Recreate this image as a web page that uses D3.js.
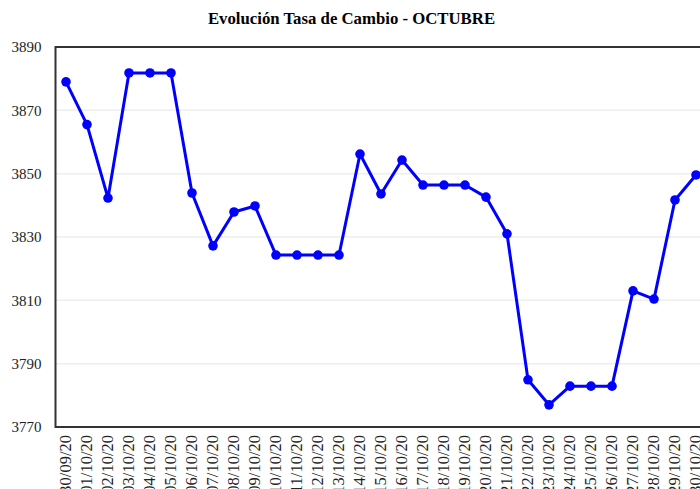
<!DOCTYPE html>
<html lang="en">
<head>
<meta charset="utf-8">
<script src="https://d3js.org/d3.v7.min.js"></script>
<style>
  body { margin: 0; background: #fff; }
  svg { display: block; }
  svg text { font-family: "Liberation Serif", "Times New Roman", Times, "DejaVu Serif", serif; }
</style>
</head>
<body>
<script>
// fechas del mes
var fechas = ["30/09/20","01/10/20","02/10/20","03/10/20","04/10/20","05/10/20","06/10/20",
  "07/10/20","08/10/20","09/10/20","10/10/20","11/10/20","12/10/20","13/10/20","14/10/20",
  "15/10/20","16/10/20","17/10/20","18/10/20","19/10/20","20/10/20","21/10/20","22/10/20",
  "23/10/20","24/10/20","25/10/20","26/10/20","27/10/20","28/10/20","29/10/20","30/10/20"];

// tasa de cambio
var tasas = [3879, 3865.5, 3842.3, 3881.8, 3881.8, 3881.8, 3843.9, 3827.2, 3837.9, 3839.8,
  3824.3, 3824.3, 3824.3, 3824.3, 3856.2, 3843.6, 3854.3, 3846.4, 3846.4, 3846.4, 3842.6,
  3831, 3784.9, 3777, 3782.9, 3782.9, 3782.9, 3813, 3810.4, 3841.7, 3849.6];

var yTicks = [3770, 3790, 3810, 3830, 3850, 3870, 3890];

var w = 700, h = 489;
var margin = {top: 47, left: 55.5, bottom: 62};
var plotW = 651;
var plotH = h - margin.top - margin.bottom;

var svg = d3.select("body").append("svg")
  .attr("width", w)
  .attr("height", h);

svg.append("text")
  .attr("x", 351.5)
  .attr("y", 24)
  .attr("text-anchor", "middle")
  .style("font-size", "16.75px")
  .style("font-weight", "bold")
  .text("Evolución Tasa de Cambio - OCTUBRE");

var x = d3.scaleBand()
  .domain(fechas)
  .range([margin.left, margin.left + plotW]);

var y = d3.scaleLinear()
  .domain([3770, 3890])
  .range([margin.top + plotH, margin.top]);

// gridlines
svg.append("g")
  .selectAll("line")
  .data(yTicks.slice(1, -1))
  .enter()
  .append("line")
  .attr("x1", margin.left)
  .attr("x2", margin.left + plotW)
  .attr("y1", function(d) { return y(d); })
  .attr("y2", function(d) { return y(d); })
  .attr("stroke", "#eeeeee")
  .attr("stroke-width", 1.5);

// y axis labels
var yAxis = d3.axisLeft(y).tickValues(yTicks).tickSize(0).tickPadding(14).tickFormat(d3.format("d"));
var gy = svg.append("g")
  .attr("transform", "translate(" + margin.left + ",0)")
  .call(yAxis);
gy.select(".domain").remove();
gy.selectAll("text")
  .style("font-size", "15px")
  .attr("fill", "#222");

// x axis labels
var xAxis = d3.axisBottom(x).tickSize(0).tickPadding(0);
var gx = svg.append("g")
  .attr("transform", "translate(0," + (margin.top + plotH) + ")")
  .call(xAxis);
gx.select(".domain").remove();
gx.selectAll("text")
  .style("font-size", "16.5px")
  .attr("fill", "#222")
  .attr("text-anchor", "end")
  .attr("dy", "0.33em")
  .attr("transform", "translate(0,8) rotate(-90)");

// frame
svg.append("path")
  .attr("d", "M" + (margin.left + plotW) + "," + margin.top +
    "H" + margin.left + "V" + (margin.top + plotH) + "H" + (margin.left + plotW))
  .attr("fill", "none")
  .attr("stroke", "#333")
  .attr("stroke-width", 2);

var line = d3.line()
  .x(function(d, i) { return x(fechas[i]) + x.bandwidth() / 2; })
  .y(function(d) { return y(d); });

svg.append("path")
  .datum(tasas)
  .attr("d", line)
  .attr("fill", "none")
  .attr("stroke", "#0000ff")
  .attr("stroke-width", 3)
  .attr("stroke-linejoin", "round");

svg.selectAll("circle")
  .data(tasas)
  .enter()
  .append("circle")
  .attr("cx", function(d, i) { return x(fechas[i]) + x.bandwidth() / 2; })
  .attr("cy", function(d) { return y(d); })
  .attr("r", 4.8)
  .attr("fill", "#0000ff");
</script>
</body>
</html>
